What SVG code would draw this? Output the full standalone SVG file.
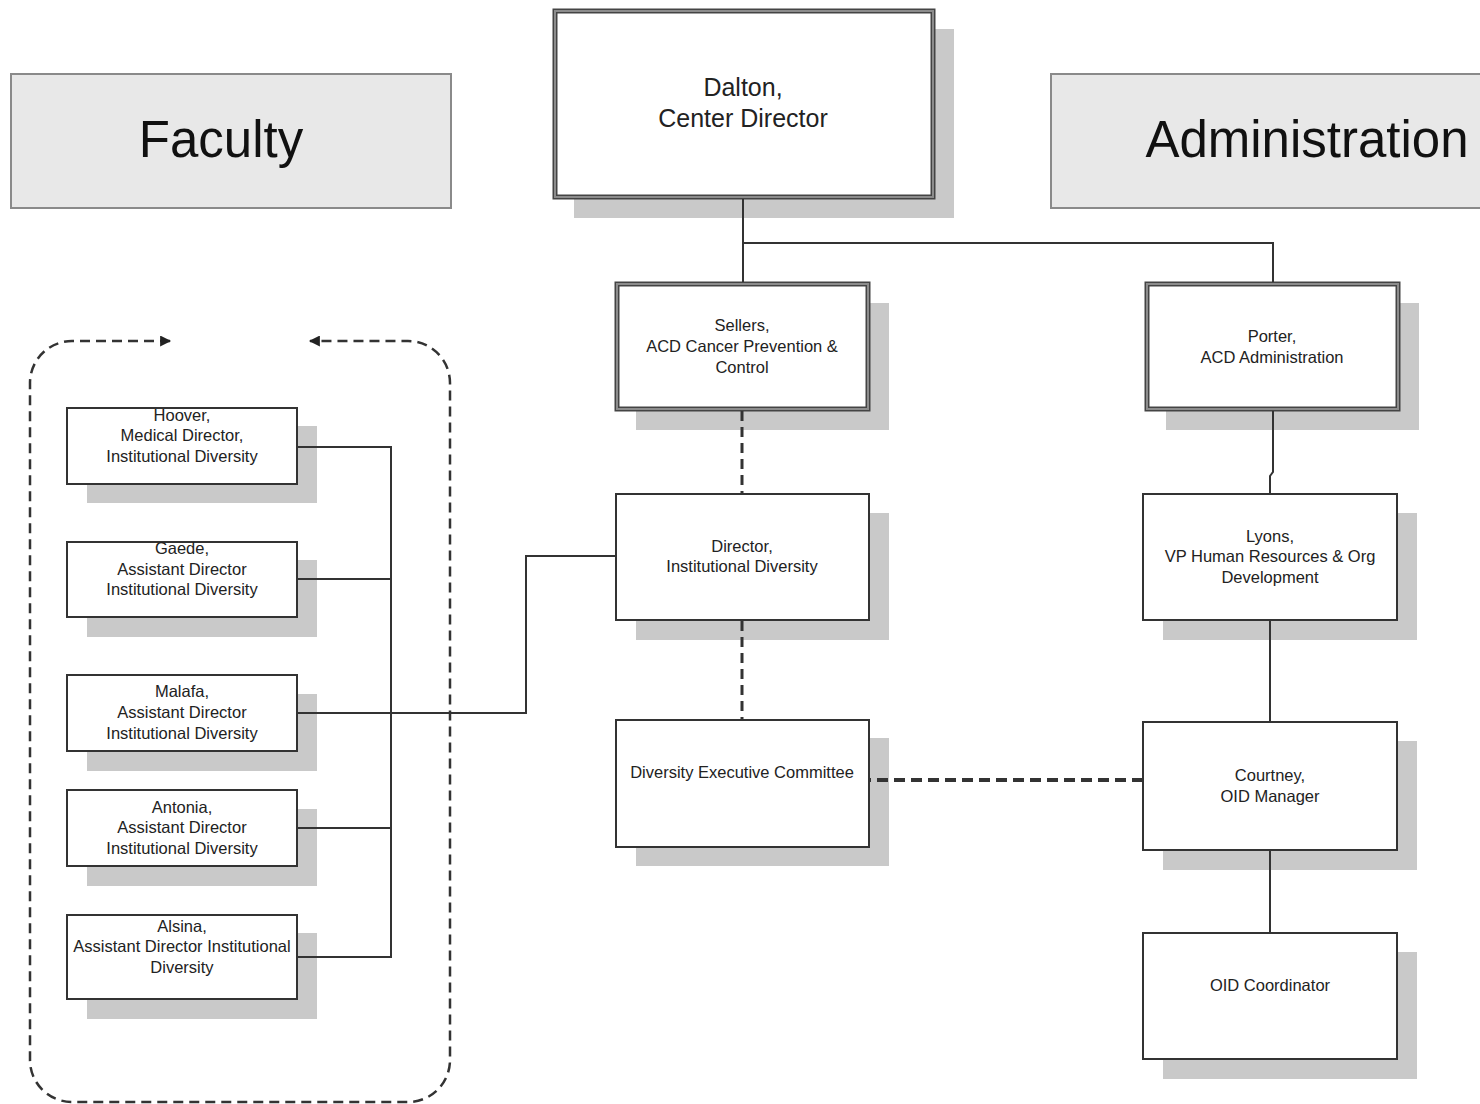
<svg xmlns="http://www.w3.org/2000/svg" width="1480" height="1104" viewBox="0 0 1480 1104">
<style>
.bg{fill:#ffffff}
.hdr{fill:#e8e8e8;stroke:#8a8a8a;stroke-width:2}
.hdrt{font-family:"Liberation Sans",Arial,sans-serif;font-size:51px;fill:#111;text-anchor:middle}
.sh{fill:#c9c9c9}
.box{fill:#ffffff;stroke:#333;stroke-width:2}
.tk{fill:#ffffff;stroke:#444;stroke-width:5}
.tki{fill:none;stroke:#8c8c8c;stroke-width:2}
.t{font-family:"Liberation Sans",Arial,sans-serif;font-size:16.5px;fill:#222;text-anchor:middle}
.tb{font-family:"Liberation Sans",Arial,sans-serif;font-size:25px;fill:#222;text-anchor:middle}
.ln{fill:none;stroke:#333;stroke-width:2}
.dl{fill:none;stroke:#333;stroke-width:3;stroke-dasharray:10 6}
.dl2{fill:none;stroke:#333;stroke-width:4;stroke-dasharray:11 6}
.dr{fill:none;stroke:#333;stroke-width:2.5;stroke-dasharray:10 6}
</style>
<defs>
<marker id="ah" viewBox="0 0 10 10" refX="9" refY="5" markerWidth="13" markerHeight="11" orient="auto-start-reverse" markerUnits="userSpaceOnUse">
<path d="M0,0 L10,5 L0,10 z" fill="#222"/>
</marker>
</defs>
<rect class="bg" x="0" y="0" width="1480" height="1104"/>

<g id="hdr-faculty">
<rect class="hdr" x="11" y="74" width="440" height="134"/>
<text class="hdrt" x="221" y="157">Faculty</text>
</g>
<g id="hdr-admin">
<rect class="hdr" x="1051" y="74" width="440" height="134"/>
<text class="hdrt" x="1307" y="157">Administration</text>
</g>

<g id="dalton">
<rect class="sh" x="574" y="29" width="380" height="189"/>
<rect class="tk" x="555" y="11" width="378" height="186"/>
<rect class="tki" x="555" y="11" width="378" height="186"/>
<text class="tb" x="743" y="96">Dalton,</text>
<text class="tb" x="743" y="127">Center Director</text>
</g>

<g id="sellers">
<rect class="sh" x="636" y="303" width="253" height="127"/>
<rect class="tk" x="617" y="284" width="251" height="125"/>
<rect class="tki" x="617" y="284" width="251" height="125"/>
<text class="t" x="742" y="331">Sellers,</text>
<text class="t" x="742" y="352">ACD Cancer Prevention &amp;</text>
<text class="t" x="742" y="373">Control</text>
</g>

<g id="porter">
<rect class="sh" x="1166" y="303" width="253" height="127"/>
<rect class="tk" x="1147" y="284" width="251" height="125"/>
<rect class="tki" x="1147" y="284" width="251" height="125"/>
<text class="t" x="1272" y="342">Porter,</text>
<text class="t" x="1272" y="363">ACD Administration</text>
</g>

<g id="director">
<rect class="sh" x="636" y="513" width="253" height="127"/>
<rect class="box" x="616" y="494" width="253" height="126"/>
<text class="t" x="742" y="552">Director,</text>
<text class="t" x="742" y="572">Institutional Diversity</text>
</g>

<g id="lyons">
<rect class="sh" x="1163" y="513" width="254" height="127"/>
<rect class="box" x="1143" y="494" width="254" height="126"/>
<text class="t" x="1270" y="542">Lyons,</text>
<text class="t" x="1270" y="562">VP Human Resources &amp; Org</text>
<text class="t" x="1270" y="583">Development</text>
</g>

<g id="dec">
<rect class="sh" x="636" y="738" width="253" height="128"/>
<rect class="box" x="616" y="720" width="253" height="127"/>
<text class="t" x="742" y="778">Diversity Executive Committee</text>
</g>

<g id="courtney">
<rect class="sh" x="1163" y="741" width="254" height="129"/>
<rect class="box" x="1143" y="722" width="254" height="128"/>
<text class="t" x="1270" y="781">Courtney,</text>
<text class="t" x="1270" y="802">OID Manager</text>
</g>

<g id="oid-coordinator">
<rect class="sh" x="1163" y="952" width="254" height="127"/>
<rect class="box" x="1143" y="933" width="254" height="126"/>
<text class="t" x="1270" y="991">OID Coordinator</text>
</g>

<g id="hoover">
<rect class="sh" x="87" y="426" width="230" height="77"/>
<rect class="box" x="67" y="408" width="230" height="76"/>
<text class="t" x="182" y="421">Hoover,</text>
<text class="t" x="182" y="441">Medical Director,</text>
<text class="t" x="182" y="462">Institutional Diversity</text>
</g>

<g id="gaede">
<rect class="sh" x="87" y="560" width="230" height="77"/>
<rect class="box" x="67" y="542" width="230" height="75"/>
<text class="t" x="182" y="554">Gaede,</text>
<text class="t" x="182" y="575">Assistant Director</text>
<text class="t" x="182" y="595">Institutional Diversity</text>
</g>

<g id="malafa">
<rect class="sh" x="87" y="694" width="230" height="77"/>
<rect class="box" x="67" y="675" width="230" height="76"/>
<text class="t" x="182" y="697">Malafa,</text>
<text class="t" x="182" y="718">Assistant Director</text>
<text class="t" x="182" y="739">Institutional Diversity</text>
</g>

<g id="antonia">
<rect class="sh" x="87" y="809" width="230" height="77"/>
<rect class="box" x="67" y="790" width="230" height="76"/>
<text class="t" x="182" y="813">Antonia,</text>
<text class="t" x="182" y="833">Assistant Director</text>
<text class="t" x="182" y="854">Institutional Diversity</text>
</g>

<g id="alsina">
<rect class="sh" x="87" y="933" width="230" height="86"/>
<rect class="box" x="67" y="915" width="230" height="84"/>
<text class="t" x="182" y="932">Alsina,</text>
<text class="t" x="182" y="952">Assistant Director Institutional</text>
<text class="t" x="182" y="973">Diversity</text>
</g>

<g id="connectors">
<path class="ln" d="M743,199 V243 H1273 V282"/>
<path class="ln" d="M743,243 V282"/>
<path class="ln" d="M1273,411 V472 L1270,476 V494"/>
<path class="dl" d="M742,411 V494"/>
<path class="dl" d="M742,621 V720"/>
<path class="dl2" d="M1143,780 H870"/>
<path class="ln" d="M1270,621 V722"/>
<path class="ln" d="M1270,851 V933"/>
<path class="ln" d="M298,447 H391 V957 H298"/>
<path class="ln" d="M298,579 H391"/>
<path class="ln" d="M298,828 H391"/>
<path class="ln" d="M298,713 H526 V556 H616"/>
<path class="dr" d="M170,341 H72 A42,42 0 0 0 30,383 V1060 A42,42 0 0 0 72,1102 H408 A42,42 0 0 0 450,1060 V383 A42,42 0 0 0 408,341 H310" marker-start="url(#ah)" marker-end="url(#ah)"/>
</g>
</svg>
